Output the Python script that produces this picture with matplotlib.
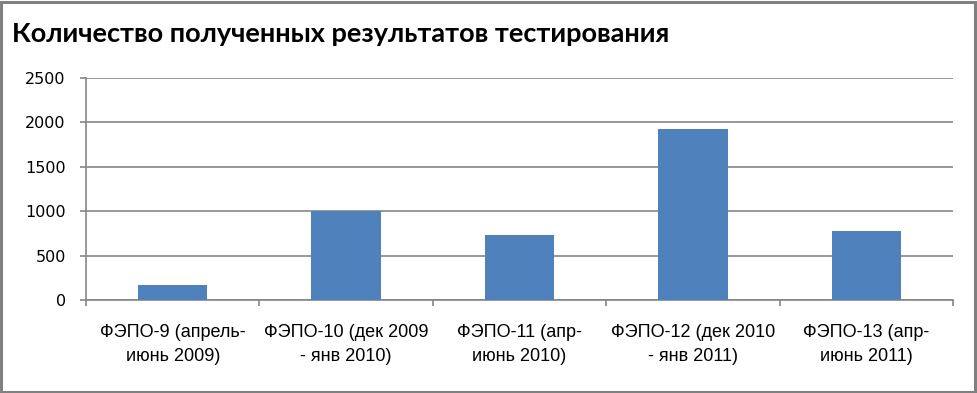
import matplotlib
matplotlib.use("Agg")
import matplotlib.pyplot as plt
from matplotlib.patches import Rectangle
from matplotlib import font_manager

title = "Количество полученных результатов тестирования"
categories = [
    "ФЭПО-9 (апрель-\nиюнь 2009)",
    "ФЭПО-10 (дек 2009\n- янв 2010)",
    "ФЭПО-11 (апр-\nиюнь 2010)",
    "ФЭПО-12 (дек 2010\n- янв 2011)",
    "ФЭПО-13 (апр-\nиюнь 2011)",
]
values = [170, 1000, 735, 1928, 778]
yticks = [0, 500, 1000, 1500, 2000, 2500]

names = {f.name for f in font_manager.fontManager.ttflist}
narrow = "Liberation Sans Narrow" if "Liberation Sans Narrow" in names else "Liberation Sans"

W, H, DPI = 977, 393, 100
fig = plt.figure(figsize=(W / DPI, H / DPI), dpi=DPI)
fig.patch.set_facecolor("white")

ax = fig.add_axes([86 / W, 1 - 300 / H, (953 - 86) / W, (300 - 78) / H])
x = list(range(len(values)))
ax.bar(x, values, width=0.4, color="#4F81BD", zorder=3)

ax.set_xlim(-0.5, len(values) - 0.5)
ax.set_ylim(0, 2500)
ax.set_yticks(yticks)
ax.set_yticklabels([str(v) for v in yticks], fontsize=11.5, family="DejaVu Sans")
ax.yaxis.grid(True, color="#868686", linewidth=1.2, zorder=0)

ax.set_xticks([i - 0.5 for i in range(len(values) + 1)])
ax.set_xticklabels([])
ax.set_xticks(x, minor=True)
ax.set_xticklabels(categories, minor=True, fontsize=13, family=narrow, linespacing=1.6)
ax.tick_params(axis="x", which="major", length=4.5, color="#868686", width=1.2)
ax.tick_params(axis="x", which="minor", length=0, pad=17)
ax.tick_params(axis="y", length=4.5, color="#868686", width=1.2, pad=10)

for s in ["top", "right"]:
    ax.spines[s].set_visible(False)
for s in ["left", "bottom"]:
    ax.spines[s].set_color("#868686")
    ax.spines[s].set_linewidth(1.2)

fig.text(12 / W, 1 - 34 / H, title, fontsize=19.5, fontweight="bold",
         family="Lato", va="center", ha="left")

fig.patches.append(Rectangle((1 / W, 1 / H), (W - 3) / W, (H - 3) / H,
                             transform=fig.transFigure, fill=False,
                             edgecolor="#808080", linewidth=2.2))

fig.savefig("out.png", dpi=DPI, facecolor="white")
